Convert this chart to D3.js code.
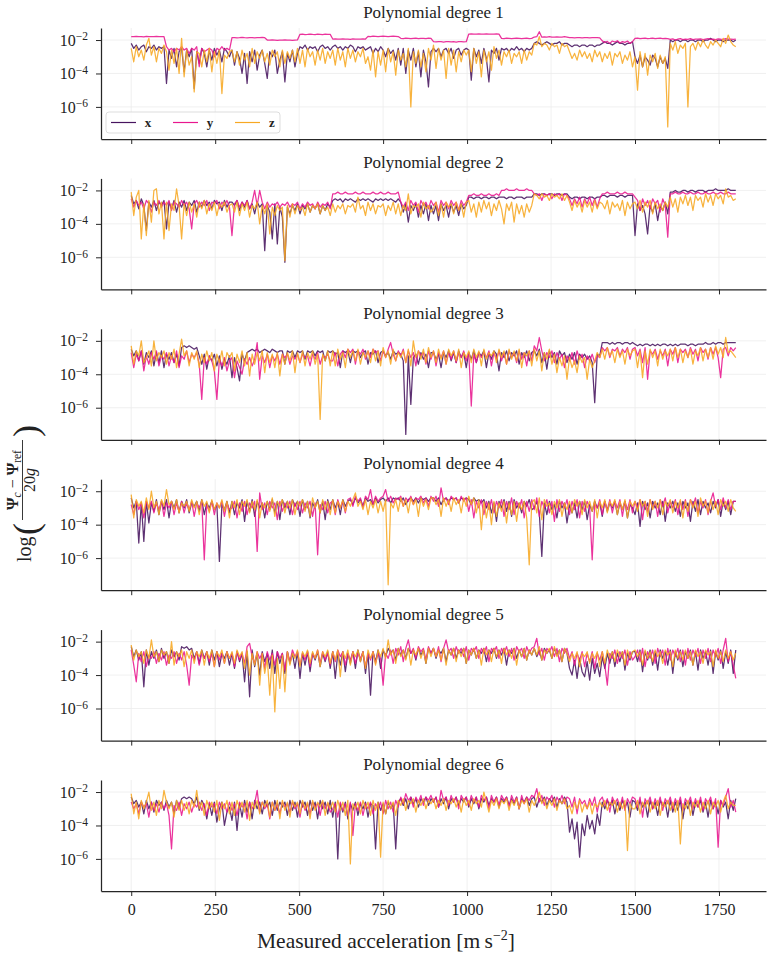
<!DOCTYPE html>
<html>
<head>
<meta charset="utf-8">
<script src="https://cdn.jsdelivr.net/npm/d3@7"></script>
<style>
  html, body { margin: 0; padding: 0; background: #fff; }
  svg text { font-family: "Liberation Serif", "DejaVu Serif", serif; fill: #222; }
</style>
</head>
<body>
<div id="chart"></div>
<script>
// sample positions along the measured acceleration axis (every 7.5)
const accel = d3.range(0, 1800.1, 7.5);
const xTicks = [0, 250, 500, 750, 1000, 1250, 1500, 1750];
const yTicks = [-6, -4, -2];
const seriesNames = ['x', 'y', 'z'];
const seriesColors = ['#47145f', '#e8178e', '#f7a823'];
const titles = ['Polynomial degree 1', 'Polynomial degree 2', 'Polynomial degree 3',
                'Polynomial degree 4', 'Polynomial degree 5', 'Polynomial degree 6'];

// log10 of the normalised error; each row covers 150 units
const deg1x = [
  -2.2,-2.5,-2.3,-2.6,-2.4,-2.3,-2.7,-2.4,-2.5,-2.3,-2.6,-2.4,-2.5,-2.4,-4.6,-2.6,-3.1,-2.5,-3.6,-2.7,
  -2.5,-3.9,-2.6,-3.0,-2.5,-4.9,-2.7,-3.4,-2.5,-2.8,-3.6,-2.6,-3.2,-2.5,-2.9,-2.6,-3.3,-2.5,-2.7,-3.0,
  -2.6,-3.5,-2.7,-3.1,-4.0,-2.8,-4.6,-2.7,-3.3,-2.6,-3.8,-2.9,-2.6,-3.4,-4.3,-2.7,-3.0,-2.6,-4.0,-3.2,
  -2.7,-4.5,-2.8,-3.3,-2.6,-3.6,-2.8,-2.4,-2.5,-2.3,-2.6,-2.4,-2.5,-2.4,-2.7,-2.4,-2.3,-2.5,-2.4,-2.6,
  -2.4,-2.3,-2.5,-2.4,-2.6,-2.4,-2.5,-2.3,-2.4,-2.7,-2.4,-2.5,-2.4,-2.6,-2.5,-2.4,-2.8,-2.5,-2.7,-2.4,
  -2.6,-3.0,-2.5,-2.8,-2.6,-3.2,-2.5,-3.5,-2.5,-4.0,-2.6,-3.2,-2.5,-3.6,-2.7,-4.2,-2.6,-3.3,-4.8,-2.7,
  -2.5,-2.7,-2.5,-3.0,-2.6,-2.5,-2.8,-2.5,-3.1,-2.6,-2.5,-2.9,-2.6,-2.5,-2.6,-4.4,-2.5,-3.0,-2.6,-3.4,
  -2.5,-3.1,-4.5,-2.6,-2.8,-2.5,-3.2,-2.5,-2.6,-2.5,-2.7,-2.5,-2.6,-2.4,-2.6,-2.5,-2.7,-2.5,-2.6,-2.5,
  -2.2,-2.1,-2.2,-2.3,-2.2,-2.1,-2.2,-2.3,-2.2,-2.2,-2.1,-2.3,-2.2,-2.2,-2.3,-2.4,-2.3,-2.3,-2.4,-2.3,
  -2.3,-2.4,-2.3,-2.3,-2.4,-2.3,-2.3,-2.2,-2.1,-2.2,-2.2,-2.3,-2.2,-2.1,-2.2,-2.2,-2.3,-2.2,-2.2,-2.1,
  -3.0,-3.4,-2.9,-3.6,-3.0,-3.2,-3.5,-2.9,-3.1,-3.6,-3.0,-3.4,-3.1,-3.7,-2.0,-2.1,-2.0,-2.0,-2.1,-2.0,
  -2.0,-2.1,-2.0,-2.0,-2.1,-2.0,-2.0,-2.1,-2.0,-2.0,-1.9,-2.0,-2.1,-2.0,-2.0,-2.1,-2.0,-2.0,-2.0,-2.1,
  -2.0];
const deg1y = [
  -1.79,-1.8,-1.78,-1.8,-1.79,-1.81,-1.78,-1.8,-1.79,-1.8,-1.78,-1.8,-1.79,-1.8,-2.4,-2.6,-2.5,-2.7,-2.5,-2.6,
  -2.4,-2.6,-2.5,-2.8,-2.5,-2.6,-2.4,-3.6,-2.5,-2.7,-2.6,-2.5,-2.6,-3.0,-2.5,-2.6,-2.4,-2.6,-2.5,-2.6,
  -1.86,-1.85,-1.87,-1.86,-1.84,-1.86,-1.87,-1.85,-1.86,-1.87,-1.85,-1.86,-1.84,-1.86,-2.0,-2.01,-1.99,-2.0,-2.02,-2.0,
  -2.0,-1.99,-2.01,-2.0,-2.02,-2.0,-1.99,-1.66,-1.65,-1.67,-1.66,-1.64,-1.66,-1.67,-1.65,-1.66,-1.67,-1.65,-1.66,-1.66,
  -1.94,-1.93,-1.95,-1.94,-1.93,-1.95,-1.94,-1.96,-1.93,-1.94,-1.95,-1.94,-1.93,-1.94,-1.78,-1.79,-1.77,-1.78,-1.79,-1.78,
  -1.77,-1.78,-1.79,-1.78,-1.77,-1.78,-1.79,-1.9,-1.91,-1.89,-1.9,-1.92,-1.9,-1.89,-1.91,-1.9,-1.9,-1.92,-1.89,-1.9,
  -2.1,-2.11,-2.09,-2.1,-2.12,-2.1,-2.09,-2.11,-2.1,-2.12,-2.1,-2.09,-2.11,-2.1,-1.64,-1.63,-1.65,-1.64,-1.63,-1.65,
  -1.64,-1.63,-1.65,-1.64,-1.64,-1.63,-1.65,-1.9,-1.91,-1.89,-1.9,-1.91,-1.9,-1.89,-1.9,-1.91,-1.9,-1.89,-1.91,-1.9,
  -1.82,-1.8,-1.5,-1.83,-1.81,-1.82,-1.8,-1.83,-1.82,-1.81,-1.83,-1.82,-1.8,-1.82,-1.86,-1.85,-1.87,-1.86,-1.85,-1.87,
  -1.86,-1.85,-1.87,-1.86,-1.85,-1.86,-1.87,-2.05,-2.15,-2.08,-2.2,-2.06,-2.12,-2.04,-2.18,-2.09,-2.14,-2.06,-2.2,-2.1,
  -1.9,-1.88,-1.92,-1.9,-1.89,-1.91,-1.9,-1.88,-1.92,-1.9,-1.89,-1.91,-1.9,-1.92,-1.96,-1.93,-2.0,-1.95,-1.92,-1.98,
  -1.94,-1.96,-1.92,-1.97,-1.94,-1.95,-1.93,-1.98,-1.95,-1.92,-1.96,-1.94,-1.97,-1.93,-1.95,-1.96,-1.92,-1.95,-1.94,-1.96,
  -1.95];
const deg1z = [
  -2.5,-3.3,-2.4,-3.0,-2.6,-3.2,-2.3,-1.9,-2.9,-2.4,-3.3,-2.5,-2.8,-2.3,-2.7,-3.8,-2.6,-3.4,-2.5,-4.0,
  -1.9,-4.2,-2.6,-3.5,-3.0,-5.1,-2.7,-2.8,-3.6,-2.6,-3.3,-2.5,-3.9,-2.7,-3.4,-2.6,-5.2,-2.9,-3.1,-2.7,
  -2.6,-3.3,-2.7,-3.5,-2.6,-3.2,-2.8,-3.6,-2.5,-3.4,-2.7,-3.1,-2.6,-3.3,-2.8,-3.5,-2.6,-3.0,-2.7,-3.6,
  -2.6,-3.4,-2.7,-3.1,-2.6,-3.3,-2.5,-3.4,-2.6,-3.6,-2.5,-3.0,-2.7,-3.5,-2.6,-3.2,-2.5,-3.4,-2.7,-3.1,
  -2.6,-3.5,-2.5,-3.2,-2.7,-3.6,-2.5,-3.1,-2.6,-3.3,-2.7,-3.0,-2.5,-3.4,-3.0,-3.8,-2.6,-4.2,-2.7,-3.5,
  -2.6,-3.9,-2.5,-3.3,-2.7,-4.1,-2.6,-3.2,-2.8,-3.6,-2.5,-6.0,-2.7,-3.4,-2.6,-3.6,-2.8,-3.9,-2.5,-3.2,
  -2.3,-3.7,-2.5,-3.2,-2.6,-4.3,-2.5,-3.5,-2.6,-3.9,-2.7,-3.3,-2.6,-2.9,-2.6,-3.9,-2.5,-3.4,-2.7,-4.2,
  -2.6,-3.3,-2.7,-3.8,-2.4,-3.1,-2.6,-3.5,-2.7,-3.0,-2.6,-3.4,-2.8,-3.0,-2.7,-3.4,-2.6,-3.2,-2.7,-2.9,
  -2.2,-2.3,-1.8,-2.4,-2.2,-2.3,-2.6,-2.2,-2.4,-2.3,-2.8,-2.2,-2.4,-2.3,-2.7,-3.1,-2.8,-3.2,-2.6,-3.0,
  -2.7,-3.1,-2.8,-3.3,-2.6,-3.0,-2.7,-3.3,-2.8,-3.1,-2.7,-3.5,-2.8,-3.0,-2.7,-3.4,-2.9,-3.2,-2.7,-3.6,
  -3.0,-5.0,-2.7,-3.6,-2.8,-4.1,-2.9,-3.3,-2.8,-3.7,-2.9,-3.4,-3.0,-7.2,-2.2,-2.6,-2.1,-2.8,-2.3,-2.5,
  -2.2,-6.0,-2.4,-2.2,-2.6,-2.1,-2.4,-2.0,-2.3,-2.5,-2.1,-2.3,-2.0,-2.2,-2.4,-1.9,-2.2,-1.7,-2.1,-2.3,
  -2.4];

const deg2x = [
  -2.3,-2.8,-2.6,-3.1,-2.5,-2.9,-4.4,-2.7,-3.0,-2.6,-3.2,-2.7,-2.9,-2.6,-4.3,-2.7,-3.1,-2.6,-3.3,-2.7,
  -3.0,-2.6,-3.2,-2.7,-2.9,-2.6,-3.3,-2.7,-3.0,-2.6,-2.9,-2.7,-3.1,-2.6,-2.8,-2.7,-3.2,-2.6,-3.0,-2.7,
  -2.7,-2.9,-2.6,-3.2,-2.7,-3.0,-2.6,-3.1,-2.8,-3.4,-2.7,-3.0,-2.8,-5.6,-2.9,-3.3,-4.9,-2.8,-5.2,-3.0,
  -3.6,-6.3,-3.0,-3.4,-2.9,-3.2,-2.8,-3.4,-2.9,-3.1,-2.8,-3.3,-2.9,-3.1,-2.8,-3.4,-2.9,-3.2,-2.8,-3.0,
  -2.6,-2.5,-2.6,-2.5,-2.7,-2.5,-2.6,-2.5,-2.6,-2.7,-2.5,-2.6,-2.5,-2.6,-2.5,-2.6,-2.7,-2.5,-2.6,-2.5,
  -2.6,-2.5,-2.6,-2.5,-2.6,-2.7,-2.5,-2.7,-3.3,-2.8,-3.9,-2.9,-3.2,-2.8,-3.6,-2.9,-3.4,-2.8,-3.8,-2.9,
  -3.4,-2.9,-3.8,-2.8,-3.2,-2.9,-3.6,-2.8,-3.3,-2.9,-3.5,-2.8,-3.1,-2.9,-2.4,-2.4,-2.5,-2.4,-2.4,-2.5,
  -2.4,-2.4,-2.5,-2.4,-2.4,-2.5,-2.4,-2.4,-2.4,-2.5,-2.4,-2.4,-2.5,-2.4,-2.4,-2.4,-2.5,-2.4,-2.4,-2.4,
  -2.2,-2.2,-2.3,-2.2,-2.2,-2.3,-2.2,-2.2,-2.3,-2.2,-2.2,-2.3,-2.2,-2.2,-2.4,-2.5,-2.4,-2.4,-2.5,-2.4,
  -2.4,-2.5,-2.4,-2.4,-2.5,-2.4,-2.4,-2.3,-2.3,-2.4,-2.3,-2.3,-2.3,-2.4,-2.3,-2.3,-2.4,-2.3,-2.3,-2.3,
  -4.7,-2.8,-3.2,-2.9,-3.4,-4.6,-2.9,-3.3,-2.8,-3.8,-2.9,-3.2,-2.7,-3.4,-2.1,-2.1,-2.0,-2.1,-2.1,-2.0,
  -2.0,-2.1,-2.0,-2.0,-2.1,-2.0,-2.0,-2.0,-2.1,-2.0,-2.0,-2.0,-1.9,-2.0,-2.0,-2.0,-2.0,-1.9,-2.0,-2.0,
  -2.0];
const deg2y = [
  -2.5,-3.0,-2.6,-2.9,-2.7,-3.1,-2.6,-2.8,-3.3,-2.7,-2.9,-2.6,-3.0,-2.7,-2.9,-2.6,-3.2,-2.7,-2.8,-3.0,
  -2.6,-2.9,-2.7,-3.1,-4.3,-2.8,-2.6,-3.0,-2.7,-2.9,-2.6,-3.2,-2.7,-2.8,-2.6,-3.1,-2.7,-2.9,-2.6,-3.0,
  -4.7,-2.8,-2.6,-3.0,-2.7,-2.9,-2.6,-3.1,-2.7,-2.0,-2.9,-2.0,-2.7,-3.1,-2.7,-3.0,-2.8,-2.9,-2.7,-3.0,
  -2.8,-2.9,-2.7,-3.0,-2.8,-2.9,-2.7,-3.1,-2.8,-3.0,-2.7,-2.9,-2.8,-3.1,-2.7,-3.0,-2.8,-2.9,-2.7,-3.1,
  -2.2,-2.2,-2.1,-2.2,-2.2,-2.1,-2.2,-2.2,-2.2,-2.1,-2.2,-2.2,-2.1,-2.2,-2.2,-2.2,-2.1,-2.2,-2.2,-2.1,
  -2.2,-2.2,-2.1,-2.2,-2.2,-2.2,-2.1,-2.7,-3.0,-2.7,-3.2,-2.6,-2.9,-2.7,-3.3,-2.6,-2.9,-2.7,-3.1,-2.6,
  -2.9,-2.7,-3.3,-2.6,-2.9,-2.7,-3.1,-2.6,-2.9,-2.7,-3.2,-2.6,-2.9,-2.7,-2.3,-2.3,-2.2,-2.3,-2.3,-2.2,
  -2.3,-2.3,-2.2,-2.3,-2.3,-2.2,-2.3,-2.0,-2.0,-1.9,-2.0,-2.0,-2.0,-1.9,-2.0,-2.0,-2.0,-1.9,-2.0,-2.0,
  -2.2,-2.3,-2.2,-2.6,-2.2,-2.3,-2.2,-2.5,-2.2,-2.3,-2.2,-2.6,-2.2,-2.3,-2.5,-2.9,-2.5,-2.8,-2.4,-3.0,
  -2.5,-2.8,-2.4,-2.9,-2.5,-3.0,-2.5,-2.2,-2.2,-2.1,-2.2,-2.2,-2.2,-2.1,-2.2,-2.2,-2.1,-2.2,-2.2,-2.2,
  -2.4,-2.6,-3.2,-2.5,-2.9,-2.6,-3.1,-2.5,-2.8,-2.6,-3.3,-2.5,-2.9,-4.8,-2.2,-2.2,-2.1,-2.2,-2.2,-2.1,
  -2.2,-2.2,-2.1,-2.2,-2.2,-2.1,-2.2,-2.2,-2.1,-2.2,-2.2,-2.1,-2.2,-2.2,-2.1,-2.2,-2.2,-2.1,-2.2,-2.2,
  -2.2];
const deg2z = [
  -2.1,-3.5,-2.4,-2.0,-4.9,-2.8,-4.7,-2.6,-3.9,-2.0,-1.9,-3.4,-2.7,-4.9,-2.7,-4.4,-2.8,-3.2,-1.9,-2.9,
  -4.9,-2.8,-3.5,-2.7,-3.3,-2.8,-3.6,-2.7,-3.1,-2.6,-3.4,-2.8,-3.2,-2.7,-3.5,-2.8,-3.0,-2.7,-3.3,-2.9,
  -2.8,-3.3,-2.7,-3.5,-2.8,-3.2,-2.7,-3.6,-2.9,-3.1,-2.7,-4.0,-2.9,-3.4,-2.8,-4.6,-3.0,-3.5,-2.9,-3.2,
  -3.0,-6.2,-2.9,-3.6,-2.8,-3.4,-2.9,-3.2,-3.0,-3.5,-2.8,-3.3,-2.9,-3.1,-2.8,-3.4,-2.9,-3.2,-3.0,-3.5,
  -2.8,-3.3,-2.9,-3.1,-2.8,-3.4,-2.9,-3.0,-2.8,-3.3,-2.4,-3.1,-2.9,-3.5,-2.7,-3.2,-2.8,-3.4,-2.9,-3.0,
  -2.8,-3.5,-2.9,-3.2,-2.7,-3.4,-2.8,-3.5,-2.9,-3.2,-2.2,-3.4,-2.9,-3.0,-2.8,-3.6,-2.7,-3.1,-2.9,-3.3,
  -3.1,-2.7,-3.5,-2.8,-3.6,-2.7,-3.0,-2.8,-3.4,-2.7,-3.2,-2.8,-3.6,-2.7,-2.6,-3.3,-2.8,-3.6,-2.7,-3.3,
  -2.6,-3.1,-2.7,-3.5,-2.8,-3.2,-2.6,-3.1,-4.0,-2.8,-3.2,-2.7,-3.9,-2.8,-3.4,-2.9,-3.6,-2.8,-3.3,-2.9,
  -2.2,-2.3,-2.5,-2.2,-2.4,-2.3,-2.6,-2.2,-2.4,-2.3,-2.5,-2.2,-2.6,-2.3,-2.7,-3.2,-2.6,-3.0,-2.7,-3.3,
  -2.6,-3.0,-2.7,-3.3,-2.6,-3.1,-2.7,-2.8,-3.1,-2.6,-3.4,-2.7,-3.0,-2.8,-3.2,-2.6,-3.5,-2.7,-3.1,-2.8,
  -2.7,-3.1,-2.6,-3.3,-2.7,-3.0,-2.6,-3.4,-2.7,-3.1,-2.8,-3.2,-2.7,-3.0,-2.4,-3.0,-2.5,-3.3,-2.4,-2.8,
  -2.3,-2.9,-2.4,-3.2,-2.3,-2.6,-2.4,-3.0,-2.2,-2.7,-2.3,-2.9,-2.2,-2.5,-2.3,-2.8,-1.9,-2.4,-2.3,-2.6,
  -2.5];

const deg3x = [
  -2.5,-2.9,-2.6,-3.2,-2.6,-3.4,-2.7,-3.0,-2.6,-3.5,-2.7,-3.3,-2.6,-3.6,-2.8,-3.1,-2.7,-3.3,-2.8,-3.5,
  -2.4,-2.3,-2.4,-2.3,-2.4,-2.5,-2.4,-2.9,-3.4,-2.8,-3.7,-2.9,-3.2,-2.8,-3.5,-2.9,-3.7,-3.1,-3.4,-2.9,
  -4.2,-3.0,-3.6,-4.4,-2.8,-3.2,-2.7,-2.6,-2.5,-2.6,-2.5,-2.7,-2.6,-2.5,-2.6,-2.7,-2.5,-2.6,-2.7,-2.6,
  -2.6,-3.4,-2.6,-2.7,-2.6,-3.0,-2.6,-2.7,-2.6,-3.1,-2.6,-2.7,-2.6,-2.9,-2.6,-2.7,-2.6,-3.2,-2.6,-2.7,
  -2.6,-2.8,-2.7,-3.6,-2.6,-2.7,-2.6,-3.3,-2.6,-2.7,-2.6,-3.0,-2.7,-2.6,-3.4,-2.7,-2.8,-2.6,-3.3,-2.7,
  -2.6,-2.9,-2.7,-3.1,-2.6,-2.8,-2.7,-2.8,-3.2,-7.6,-2.9,-5.8,-3.0,-2.8,-3.4,-2.7,-3.1,-2.8,-3.6,-2.7,
  -2.7,-3.1,-2.8,-3.6,-2.7,-3.0,-2.6,-3.2,-2.7,-3.3,-2.6,-3.0,-2.7,-3.6,-2.7,-3.1,-2.6,-3.3,-2.7,-2.9,
  -2.6,-3.6,-2.7,-3.1,-2.6,-2.8,-3.8,-2.7,-3.0,-2.6,-3.2,-2.7,-2.9,-2.6,-3.4,-2.7,-3.0,-2.6,-3.2,-2.7,
  -2.6,-2.9,-2.5,-3.3,-2.7,-3.7,-2.6,-3.0,-2.7,-3.4,-2.6,-2.9,-2.7,-3.3,-2.8,-3.1,-2.7,-3.4,-2.8,-3.0,
  -2.8,-3.1,-2.9,-3.3,-5.7,-2.8,-2.9,-2.1,-2.1,-2.1,-2.2,-2.1,-2.2,-2.1,-2.1,-2.2,-2.1,-2.1,-2.2,-2.1,
  -2.2,-2.3,-2.2,-2.3,-2.2,-2.2,-2.3,-2.2,-2.3,-2.2,-2.3,-2.2,-2.2,-2.3,-2.2,-2.3,-2.2,-2.3,-2.2,-2.2,
  -2.2,-2.3,-2.2,-2.2,-2.3,-2.2,-2.2,-2.2,-2.1,-2.2,-2.2,-2.1,-2.2,-2.1,-2.1,-2.2,-2.1,-2.1,-2.1,-2.1,
  -2.1];
const deg3y = [
  -2.7,-3.6,-2.8,-3.2,-2.6,-3.8,-2.9,-3.4,-2.7,-3.1,-2.6,-3.5,-2.9,-3.1,-2.7,-3.5,-2.9,-3.3,-2.6,-3.6,
  -2.9,-3.1,-2.6,-3.3,-2.8,-3.0,-2.7,-3.4,-5.5,-3.0,-3.4,-2.9,-3.2,-3.8,-5.5,-3.1,-3.5,-3.0,-3.8,-3.2,
  -3.0,-4.2,-3.2,-3.6,-4.0,-3.1,-3.4,-3.0,-3.5,-3.1,-2.1,-4.3,-2.9,-3.3,-2.8,-3.6,-2.9,-3.2,-2.8,-3.4,
  -2.8,-3.0,-2.8,-3.4,-2.9,-3.1,-2.8,-3.3,-2.8,-3.0,-2.9,-3.5,-2.8,-3.1,-2.7,-3.4,-2.9,-3.0,-2.8,-3.2,
  -3.2,-2.7,-3.5,-2.8,-2.6,-3.0,-2.5,-2.7,-2.5,-3.4,-2.6,-2.8,-2.5,-3.1,-2.6,-3.0,-2.5,-2.7,-2.6,-3.2,
  -2.6,-3.0,-2.5,-2.1,-2.8,-3.2,-2.6,-2.9,-2.5,-3.3,-2.6,-3.0,-2.7,-3.5,-2.6,-2.9,-2.7,-3.4,-2.6,-3.1,
  -2.6,-3.5,-2.7,-3.0,-2.6,-3.4,-2.7,-3.1,-2.6,-3.3,-2.7,-3.0,-2.6,-3.2,-2.7,-5.9,-2.8,-3.3,-2.7,-3.0,
  -2.7,-3.0,-2.6,-3.5,-2.7,-3.1,-2.6,-3.2,-2.7,-3.4,-2.6,-3.0,-2.7,-3.3,-2.6,-3.1,-2.7,-3.5,-2.6,-3.2,
  -2.3,-2.6,-1.8,-2.6,-3.2,-2.7,-3.0,-2.6,-3.3,-2.7,-3.1,-2.8,-3.6,-2.9,-3.2,-2.7,-3.4,-2.6,-3.1,-2.8,
  -3.6,-2.9,-3.2,-2.8,-3.3,-2.9,-3.0,-2.4,-2.6,-2.4,-3.0,-2.5,-2.6,-2.4,-2.9,-2.5,-2.7,-2.4,-3.1,-2.5,
  -2.4,-2.9,-2.5,-3.3,-2.4,-4.3,-2.6,-2.8,-2.5,-3.1,-2.6,-2.9,-2.5,-3.5,-2.5,-2.8,-2.4,-3.3,-2.5,-2.7,
  -2.5,-3.0,-2.4,-2.8,-2.5,-3.2,-2.4,-2.7,-2.5,-3.1,-2.4,-2.8,-2.4,-3.0,-4.2,-2.5,-2.4,-2.9,-2.4,-2.6,
  -2.4];
const deg3z = [
  -2.3,-3.4,-2.6,-2.9,-2.0,-3.3,-3.0,-2.6,-3.5,-2.0,-3.2,-2.7,-3.0,-2.6,-3.4,-2.7,-3.1,-2.5,-3.6,-2.8,
  -1.9,-2.9,-2.6,-3.5,-2.7,-3.1,-2.6,-3.6,-2.8,-3.3,-2.6,-3.2,-2.7,-3.8,-2.8,-3.3,-2.6,-3.5,-2.7,-3.0,
  -2.7,-3.8,-2.8,-3.3,-2.6,-3.5,-2.7,-4.1,-2.8,-3.4,-2.7,-3.2,-2.6,-3.9,-2.7,-3.3,-2.8,-3.6,-2.7,-4.1,
  -2.8,-3.4,-2.7,-3.2,-2.6,-3.9,-2.7,-3.3,-2.6,-3.5,-2.7,-3.1,-2.6,-3.4,-2.8,-6.7,-2.8,-3.2,-2.6,-3.5,
  -2.6,-3.5,-2.5,-3.1,-2.7,-3.6,-2.5,-3.0,-2.6,-3.2,-2.5,-3.4,-2.7,-3.0,-2.6,-3.3,-2.5,-3.2,-2.6,-3.5,
  -2.4,-3.0,-2.6,-3.4,-2.5,-3.2,-2.7,-3.0,-2.6,-3.3,-2.5,-3.5,-2.0,-3.0,-2.6,-3.1,-2.5,-3.3,-2.4,-3.0,
  -2.6,-3.3,-2.5,-3.1,-2.6,-3.4,-2.5,-2.9,-2.6,-3.2,-2.5,-3.6,-2.7,-3.0,-2.6,-3.3,-2.5,-3.0,-2.6,-3.5,
  -2.5,-3.1,-2.7,-2.9,-2.6,-3.3,-2.5,-3.0,-2.6,-3.4,-2.5,-3.1,-2.6,-3.2,-2.5,-3.6,-2.7,-2.9,-2.6,-3.5,
  -2.5,-3.2,-2.6,-3.8,-2.7,-3.1,-2.5,-3.4,-2.8,-3.9,-3.0,-3.5,-2.9,-4.3,-3.0,-3.6,-3.2,-3.9,-2.9,-3.3,
  -3.0,-4.3,-3.1,-3.6,-3.2,-2.7,-3.0,-2.5,-3.1,-2.4,-2.9,-2.6,-3.3,-2.5,-3.0,-2.6,-3.4,-2.5,-2.9,-2.6,
  -2.5,-3.6,-2.6,-4.2,-2.6,-3.4,-2.5,-3.0,-2.6,-3.5,-2.5,-3.1,-2.6,-2.9,-2.5,-3.2,-2.4,-3.0,-2.5,-3.3,
  -2.6,-3.0,-2.5,-3.4,-2.6,-2.9,-2.4,-3.2,-2.5,-3.0,-2.4,-3.1,-2.3,-2.8,-2.4,-3.0,-1.8,-2.7,-2.6,-2.8,
  -3.0];

const deg4x = [
  -2.4,-3.0,-2.6,-5.1,-2.7,-5.0,-2.6,-3.9,-2.7,-3.2,-2.5,-3.4,-2.6,-3.1,-2.5,-3.6,-2.6,-3.0,-2.5,-3.3,
  -2.6,-3.0,-2.5,-3.3,-2.7,-2.9,-2.6,-3.2,-2.5,-3.4,-2.7,-3.0,-2.6,-3.1,-2.8,-6.2,-2.8,-3.1,-2.6,-3.3,
  -2.6,-3.4,-2.7,-3.0,-2.5,-3.8,-2.6,-3.2,-2.5,-3.5,-2.6,-3.0,-2.7,-3.6,-2.6,-3.1,-2.5,-3.3,-2.6,-3.7,
  -2.5,-3.0,-2.6,-3.4,-2.5,-2.9,-2.6,-3.5,-2.5,-3.1,-2.6,-3.6,-2.7,-3.0,-2.5,-3.3,-2.6,-3.7,-2.5,-3.1,
  -2.5,-3.0,-2.6,-3.4,-2.5,-2.9,-2.6,-2.5,-2.8,-2.4,-2.7,-2.5,-2.9,-2.4,-2.6,-2.5,-2.8,-2.4,-2.7,-2.5,
  -2.4,-2.6,-2.4,-2.7,-2.4,-2.5,-2.4,-2.6,-2.4,-2.8,-2.5,-2.4,-2.6,-2.4,-2.7,-2.4,-2.5,-2.4,-2.6,-2.4,
  -2.4,-2.6,-2.4,-2.8,-2.5,-2.4,-2.6,-2.4,-2.5,-2.4,-2.7,-2.4,-2.5,-2.4,-2.5,-2.8,-2.4,-2.6,-2.5,-2.7,
  -2.5,-3.0,-2.6,-3.3,-2.7,-3.8,-2.6,-3.0,-2.5,-3.2,-2.6,-3.5,-2.5,-3.0,-2.7,-3.3,-2.6,-2.9,-2.5,-3.1,
  -3.0,-2.6,-3.3,-5.9,-2.7,-3.4,-2.6,-3.1,-2.8,-3.6,-2.6,-3.0,-2.7,-3.9,-2.8,-3.3,-2.7,-3.6,-2.6,-3.1,
  -2.6,-3.7,-2.8,-3.2,-2.6,-3.0,-2.7,-3.5,-2.6,-3.2,-2.7,-3.0,-2.6,-3.4,-2.7,-3.1,-2.6,-3.6,-2.8,-3.0,
  -3.4,-2.7,-4.1,-2.6,-3.1,-2.7,-3.6,-2.6,-3.0,-2.7,-3.4,-2.6,-3.8,-2.7,-3.0,-2.6,-3.2,-2.7,-3.5,-2.6,
  -3.0,-2.7,-3.8,-2.6,-3.2,-2.5,-3.4,-2.6,-3.0,-2.7,-3.3,-2.6,-3.0,-2.5,-3.5,-2.6,-3.1,-2.6,-3.4,-2.6,
  -2.6];
const deg4y = [
  -2.8,-3.4,-2.6,-3.1,-2.7,-3.6,-2.6,-3.0,-2.6,-3.3,-2.7,-3.1,-2.6,-3.5,-2.7,-3.0,-2.6,-3.4,-2.7,-3.2,
  -2.6,-3.3,-2.7,-3.1,-2.6,-3.5,-2.7,-3.0,-2.6,-6.1,-2.8,-3.2,-2.6,-3.4,-2.7,-3.0,-2.6,-3.5,-2.7,-3.1,
  -3.0,-2.6,-3.6,-2.7,-3.2,-2.6,-3.4,-2.7,-3.0,-2.6,-5.6,-2.1,-3.1,-2.7,-3.4,-2.6,-3.0,-2.7,-3.7,-2.6,
  -3.2,-2.7,-3.0,-2.6,-3.4,-2.7,-3.1,-2.6,-3.3,-2.7,-3.0,-2.6,-3.5,-2.7,-5.8,-2.8,-3.1,-2.6,-3.3,-2.7,
  -2.6,-3.4,-2.5,-3.0,-2.6,-3.3,-2.5,-2.4,-2.9,-2.3,-2.6,-2.4,-3.0,-2.3,-2.5,-1.9,-2.8,-2.3,-2.6,-2.4,
  -2.3,-1.9,-2.6,-2.3,-2.7,-2.4,-2.5,-2.3,-2.9,-2.4,-2.6,-2.3,-2.8,-2.4,-2.5,-2.3,-2.7,-2.4,-2.9,-2.3,
  -2.6,-2.3,-2.9,-1.8,-2.6,-2.4,-2.8,-2.3,-2.5,-2.4,-2.7,-2.3,-2.6,-2.4,-3.2,-2.5,-3.6,-2.6,-3.0,-2.5,
  -3.4,-2.6,-3.1,-2.5,-3.3,-2.6,-3.0,-2.5,-3.5,-2.6,-3.1,-2.4,-3.4,-2.6,-3.0,-2.5,-3.6,-2.6,-3.2,-2.5,
  -3.1,-2.4,-3.5,-2.6,-3.0,-2.5,-3.3,-2.6,-3.8,-2.5,-3.2,-2.6,-3.0,-2.5,-3.4,-2.6,-3.1,-2.5,-3.6,-2.6,
  -3.2,-2.6,-3.0,-6.1,-2.7,-3.0,-2.5,-3.4,-2.6,-3.1,-2.5,-3.3,-2.6,-3.0,-2.5,-3.5,-2.6,-3.1,-2.5,-3.3,
  -2.6,-3.0,-2.5,-3.7,-2.6,-3.2,-2.5,-3.0,-2.6,-3.5,-2.5,-2.9,-2.4,-3.3,-2.6,-3.0,-2.5,-3.4,-2.6,-3.1,
  -2.5,-3.5,-2.5,-2.9,-2.4,-3.3,-2.6,-3.0,-2.5,-3.4,-2.6,-2.1,-2.9,-2.5,-3.1,-2.4,-3.0,-2.5,-3.1,-2.6,
  -2.6];
const deg4z = [
  -2.2,-3.6,-2.5,-2.9,-2.6,-3.3,-2.4,-3.1,-2.0,-3.0,-2.6,-3.4,-2.5,-2.9,-1.9,-2.8,-2.6,-3.1,-2.5,-3.3,
  -2.7,-2.9,-2.6,-3.2,-2.5,-3.0,-2.6,-3.4,-2.5,-2.9,-2.6,-3.3,-2.5,-3.1,-2.7,-3.0,-2.5,-3.2,-2.6,-3.6,
  -2.6,-3.0,-2.5,-3.4,-2.6,-2.9,-2.5,-3.3,-2.6,-3.1,-2.5,-3.6,-2.7,-3.0,-2.6,-3.2,-2.4,-3.5,-2.6,-2.9,
  -2.5,-3.3,-2.6,-3.0,-2.5,-3.4,-2.6,-2.9,-2.5,-3.2,-2.6,-3.5,-2.4,-3.0,-2.6,-3.3,-2.5,-3.1,-2.6,-3.4,
  -2.5,-3.3,-2.6,-3.0,-2.5,-3.2,-2.6,-2.9,-2.5,-2.1,-2.9,-2.6,-3.1,-2.5,-3.4,-2.6,-3.0,-2.5,-3.3,-2.6,
  -3.2,-2.5,-7.6,-2.7,-3.0,-2.5,-3.2,-2.4,-2.9,-2.5,-3.3,-2.4,-2.8,-2.5,-3.5,-2.4,-2.9,-2.5,-3.1,-2.4,
  -2.4,-2.8,-2.5,-3.5,-2.4,-2.9,-2.5,-3.2,-2.4,-2.8,-2.5,-3.3,-2.4,-2.9,-2.3,-2.8,-2.4,-3.3,-2.5,-4.3,
  -2.6,-3.6,-2.7,-4.0,-2.6,-3.5,-2.7,-3.2,-2.6,-3.9,-2.7,-3.4,-2.6,-3.8,-2.7,-3.1,-2.6,-3.6,-6.4,-2.7,
  -2.5,-3.3,-2.4,-3.7,-2.5,-2.9,-2.7,-3.4,-2.6,-3.0,-2.5,-3.5,-2.7,-3.1,-2.6,-3.3,-2.5,-2.9,-2.6,-3.4,
  -2.5,-3.0,-2.6,-3.2,-2.5,-3.6,-2.6,-3.0,-2.5,-3.3,-2.6,-2.9,-2.5,-3.4,-2.6,-3.1,-2.5,-3.6,-2.6,-2.9,
  -2.6,-3.2,-2.5,-2.9,-2.6,-3.5,-2.5,-3.1,-2.6,-3.0,-2.5,-3.4,-2.6,-2.9,-2.5,-3.3,-2.6,-3.0,-2.5,-3.6,
  -2.6,-3.2,-2.5,-3.0,-2.6,-3.5,-2.4,-2.9,-2.6,-3.3,-2.5,-3.1,-2.6,-3.4,-2.5,-2.9,-2.6,-3.2,-2.5,-3.0,
  -3.2];

const deg5x = [
  -2.3,-2.9,-2.5,-3.1,-2.6,-4.7,-2.5,-3.4,-2.6,-3.0,-2.5,-3.2,-2.4,-3.0,-2.6,-3.3,-2.5,-2.9,-2.6,-3.1,
  -2.3,-2.4,-2.3,-2.5,-2.4,-3.0,-2.6,-3.3,-2.5,-3.0,-2.6,-3.4,-2.5,-3.1,-2.6,-3.5,-2.7,-3.0,-2.6,-3.4,
  -2.7,-3.6,-2.6,-3.2,-2.7,-4.4,-2.6,-5.3,-2.5,-3.5,-2.7,-4.0,-2.6,-3.2,-2.7,-3.6,-2.5,-3.9,-2.6,-3.3,
  -2.7,-3.9,-2.6,-3.3,-2.7,-3.6,-2.6,-4.2,-2.7,-3.4,-2.6,-3.8,-2.7,-3.1,-2.6,-3.5,-2.7,-3.2,-2.6,-3.6,
  -2.6,-4.2,-2.7,-3.4,-2.6,-3.8,-2.7,-3.3,-2.6,-3.6,-2.5,-3.2,-2.6,-3.9,-2.7,-5.2,-2.6,-3.2,-2.5,-3.6,
  -2.5,-2.9,-2.4,-2.7,-2.5,-3.1,-2.4,-2.8,-2.5,-3.0,-2.4,-2.7,-2.5,-3.1,-2.4,-2.8,-2.5,-3.3,-2.4,-2.7,
  -2.4,-3.0,-2.5,-2.7,-2.4,-3.2,-2.5,-2.8,-2.4,-3.0,-2.5,-2.7,-2.4,-3.3,-2.5,-2.8,-2.4,-3.0,-2.5,-2.7,
  -2.4,-3.2,-2.5,-2.7,-2.4,-3.0,-2.5,-2.8,-2.4,-3.4,-2.5,-2.7,-2.4,-3.0,-2.5,-2.9,-2.4,-3.1,-2.5,-2.8,
  -2.4,-2.9,-2.5,-3.1,-2.4,-2.7,-2.5,-3.0,-2.4,-2.8,-2.5,-3.2,-2.4,-2.7,-3.6,-4.0,-3.1,-4.2,-3.0,-3.8,
  -4.1,-3.2,-4.3,-3.0,-3.9,-3.3,-4.1,-2.9,-3.6,-2.7,-3.3,-2.6,-3.5,-2.7,-3.2,-2.6,-3.7,-2.7,-3.1,-2.6,
  -2.6,-3.2,-2.5,-3.8,-2.6,-3.1,-2.5,-3.4,-2.6,-3.7,-2.5,-3.0,-2.6,-3.4,-2.5,-3.9,-2.6,-3.1,-2.5,-3.5,
  -2.6,-3.0,-2.5,-3.4,-2.6,-3.7,-2.5,-3.0,-2.6,-3.4,-2.5,-3.9,-2.6,-3.1,-2.5,-3.6,-2.6,-3.3,-2.5,-3.9,
  -2.5];
const deg5y = [
  -2.5,-3.4,-4.4,-2.7,-3.2,-2.6,-3.5,-2.8,-3.0,-2.6,-3.3,-2.7,-3.1,-2.6,-3.4,-2.8,-3.0,-2.6,-3.3,-2.7,
  -3.1,-2.6,-3.4,-4.6,-2.8,-3.1,-2.6,-3.4,-2.7,-3.0,-2.6,-3.2,-2.7,-3.5,-2.6,-3.1,-2.7,-3.3,-2.6,-3.0,
  -2.7,-3.5,-2.6,-3.1,-2.7,-3.3,-2.3,-2.1,-2.9,-3.3,-2.6,-3.0,-2.7,-3.6,-2.6,-3.1,-2.7,-3.4,-2.6,-3.0,
  -2.7,-3.7,-2.6,-3.2,-2.5,-2.9,-2.6,-3.4,-2.7,-3.1,-2.6,-3.5,-2.7,-3.0,-2.5,-3.3,-2.6,-3.1,-2.7,-3.4,
  -2.6,-3.2,-2.5,-2.9,-2.6,-3.4,-2.7,-3.1,-2.6,-3.3,-2.7,-3.0,-2.6,-3.5,-2.7,-3.1,-2.6,-3.3,-2.7,-3.0,
  -4.6,-2.7,-3.0,-2.5,-3.3,-2.4,-2.8,-2.3,-3.2,-2.4,-1.9,-2.7,-2.4,-3.0,-2.3,-2.6,-2.4,-3.1,-2.3,-2.7,
  -2.4,-2.9,-2.3,-3.2,-2.4,-1.9,-2.6,-2.4,-3.0,-2.3,-2.7,-2.4,-2.9,-2.3,-3.1,-2.4,-2.6,-2.3,-3.0,-2.4,
  -2.7,-2.3,-3.2,-2.4,-2.6,-2.3,-3.0,-2.4,-2.7,-2.3,-2.9,-2.4,-3.1,-2.3,-2.6,-2.4,-3.0,-2.3,-2.7,-2.4,
  -2.3,-1.8,-2.8,-2.4,-3.1,-2.4,-2.6,-2.3,-2.9,-2.4,-3.2,-2.4,-2.7,-2.4,-3.0,-2.6,-3.4,-2.7,-3.1,-2.6,
  -3.5,-2.7,-3.2,-2.6,-3.6,-2.7,-3.1,-2.6,-3.4,-4.6,-2.7,-3.0,-2.5,-3.3,-2.6,-3.0,-2.5,-3.4,-2.6,-3.1,
  -2.9,-2.5,-3.2,-2.4,-3.5,-2.6,-3.0,-2.5,-3.3,-2.4,-2.9,-2.5,-3.4,-2.4,-3.1,-2.5,-2.9,-2.4,-3.2,-2.5,
  -3.4,-2.4,-3.1,-2.5,-2.9,-2.4,-3.3,-2.5,-3.0,-2.4,-3.2,-2.5,-2.9,-2.4,-3.3,-2.5,-1.8,-3.2,-2.6,-3.4,
  -4.2];
const deg5z = [
  -2.2,-3.1,-2.5,-2.9,-2.6,-3.3,-2.5,-3.0,-1.9,-2.9,-2.6,-3.2,-2.5,-2.8,-2.6,-3.3,-2.0,-3.4,-2.6,-2.9,
  -2.5,-3.5,-2.6,-3.0,-2.5,-3.3,-2.6,-2.9,-2.5,-3.4,-2.6,-3.0,-2.5,-3.5,-2.6,-2.9,-2.5,-3.3,-2.6,-3.0,
  -2.6,-3.3,-2.5,-2.9,-2.6,-3.6,-2.5,-4.0,-2.7,-3.4,-2.6,-4.6,-2.7,-3.9,-3.0,-5.2,-2.8,-6.2,-3.0,-4.8,
  -2.8,-5.0,-2.6,-3.4,-2.7,-3.0,-2.5,-3.5,-2.6,-2.9,-2.5,-3.3,-2.6,-3.0,-2.5,-3.5,-2.6,-2.9,-2.5,-3.3,
  -2.6,-3.1,-2.5,-4.1,-2.6,-3.0,-2.5,-3.4,-2.6,-2.9,-2.5,-3.2,-2.6,-3.6,-2.5,-3.0,-2.6,-3.4,-2.5,-2.9,
  -2.4,-3.0,-1.9,-2.8,-2.5,-3.3,-2.4,-2.9,-2.5,-3.1,-2.4,-3.4,-2.5,-2.8,-2.4,-3.0,-2.5,-3.3,-2.4,-2.9,
  -2.4,-2.9,-2.5,-3.1,-2.4,-3.4,-2.5,-2.8,-2.4,-3.2,-2.5,-2.9,-2.4,-3.3,-2.5,-2.8,-2.4,-3.0,-2.5,-3.4,
  -2.4,-2.8,-2.5,-3.2,-2.4,-2.9,-2.5,-3.3,-2.4,-2.8,-2.5,-3.0,-2.4,-3.4,-2.5,-2.9,-2.4,-3.1,-2.5,-2.8,
  -2.4,-2.8,-2.3,-3.1,-2.5,-2.7,-2.4,-3.0,-2.3,-2.9,-2.5,-3.2,-2.4,-2.7,-3.2,-2.7,-3.0,-2.6,-3.5,-2.7,
  -2.9,-2.6,-3.3,-2.7,-3.0,-2.6,-3.5,-2.6,-3.3,-2.5,-3.0,-2.6,-3.2,-2.5,-2.9,-2.6,-3.4,-2.5,-3.0,-2.6,
  -2.5,-2.9,-2.6,-3.4,-2.5,-3.0,-2.6,-3.2,-2.5,-2.9,-2.6,-3.3,-2.5,-2.8,-2.6,-3.5,-2.5,-3.0,-2.6,-3.1,
  -2.5,-3.0,-2.6,-3.4,-2.5,-2.9,-2.6,-3.3,-2.5,-2.8,-2.6,-3.5,-2.5,-3.0,-2.6,-3.2,-2.5,-3.0,-2.6,-3.1,
  -2.7];

const deg6x = [
  -2.3,-2.7,-2.5,-2.9,-2.6,-3.3,-2.5,-3.0,-2.6,-3.2,-2.5,-2.8,-2.6,-3.1,-2.5,-2.9,-2.6,-3.3,-2.5,-3.0,
  -2.4,-2.3,-2.4,-2.3,-2.4,-2.7,-2.3,-3.1,-2.5,-2.8,-3.6,-2.7,-3.4,-2.6,-3.8,-3.0,-2.6,-4.0,-3.2,-2.9,
  -3.7,-2.6,-4.3,-2.7,-3.5,-2.5,-3.2,-2.6,-3.6,-2.5,-3.0,-2.6,-3.3,-2.5,-2.9,-2.6,-3.4,-2.5,-3.1,-2.6,
  -2.9,-2.6,-3.4,-2.5,-3.1,-2.6,-3.5,-2.5,-2.9,-2.6,-3.4,-2.5,-3.1,-2.6,-3.6,-2.5,-3.0,-2.6,-3.3,-2.5,
  -3.5,-2.6,-6.0,-2.7,-3.2,-2.6,-3.6,-2.7,-3.1,-2.6,-3.4,-2.7,-3.0,-2.6,-3.5,-2.7,-2.8,-5.4,-2.6,-3.1,
  -2.7,-3.3,-2.6,-3.0,-2.7,-5.4,-2.6,-2.4,-2.8,-2.4,-3.0,-2.3,-2.7,-2.4,-2.9,-2.4,-2.6,-2.3,-2.8,-2.4,
  -2.6,-2.3,-2.9,-2.4,-2.7,-2.3,-3.0,-2.4,-2.6,-2.3,-2.8,-2.4,-2.6,-2.3,-2.9,-2.4,-2.7,-2.3,-3.0,-2.4,
  -2.6,-2.3,-2.8,-2.4,-2.6,-2.3,-2.9,-2.4,-2.6,-2.3,-2.8,-2.4,-2.7,-2.3,-3.0,-2.4,-2.6,-2.3,-2.8,-2.4,
  -2.3,-2.9,-2.4,-2.6,-2.3,-2.8,-2.4,-2.6,-2.3,-2.9,-2.4,-2.7,-2.3,-2.6,-4.4,-3.6,-4.8,-3.8,-5.9,-3.9,
  -4.6,-3.4,-4.2,-3.7,-4.5,-3.3,-4.0,-2.6,-3.0,-2.5,-2.8,-2.5,-3.3,-2.6,-3.1,-2.5,-2.9,-2.6,-3.5,-2.5,
  -2.6,-3.1,-2.5,-2.9,-2.6,-3.5,-2.5,-3.0,-2.6,-3.4,-2.5,-2.8,-2.6,-3.5,-2.5,-3.2,-2.6,-3.1,-2.5,-3.6,
  -2.6,-3.0,-2.5,-3.4,-2.6,-2.9,-2.5,-3.2,-2.6,-3.5,-2.5,-3.0,-2.6,-3.3,-2.5,-2.9,-2.6,-3.6,-2.5,-3.1,
  -2.4];
const deg6y = [
  -2.6,-3.0,-2.7,-3.3,-2.6,-2.9,-2.7,-3.5,-2.6,-3.1,-2.7,-3.2,-2.6,-3.0,-2.7,-3.4,-5.4,-2.8,-3.1,-2.6,
  -3.4,-2.7,-3.0,-2.6,-3.2,-2.7,-2.9,-2.6,-3.1,-2.7,-3.4,-2.6,-2.9,-2.7,-3.3,-2.6,-3.0,-2.7,-3.2,-2.6,
  -3.1,-2.7,-3.4,-2.6,-2.9,-2.7,-3.6,-2.6,-3.0,-2.7,-1.9,-3.2,-2.6,-3.0,-2.7,-3.6,-2.6,-3.1,-2.7,-3.3,
  -2.6,-2.9,-2.7,-3.2,-2.6,-3.0,-2.7,-3.5,-2.6,-3.1,-2.7,-3.3,-2.6,-2.9,-2.7,-3.4,-2.6,-3.0,-2.7,-3.2,
  -3.0,-2.7,-3.5,-2.6,-3.1,-2.7,-3.4,-2.6,-4.6,-2.7,-3.1,-2.6,-3.4,-2.7,-3.0,-2.6,-3.3,-2.7,-3.0,-2.6,
  -3.3,-2.5,-3.0,-2.6,-3.2,-2.5,-2.9,-2.3,-2.7,-2.1,-2.5,-2.3,-2.9,-2.3,-2.6,-2.2,-2.8,-2.3,-2.5,-2.2,
  -2.6,-2.3,-2.9,-1.9,-2.5,-2.3,-2.8,-2.2,-2.6,-2.3,-3.0,-2.2,-2.5,-2.3,-2.8,-2.2,-2.6,-2.3,-2.9,-2.2,
  -2.5,-2.3,-3.0,-2.2,-2.6,-2.3,-2.8,-2.2,-2.5,-2.3,-2.9,-2.2,-2.6,-2.3,-3.0,-2.2,-2.7,-2.3,-2.5,-2.2,
  -2.3,-1.8,-2.6,-2.2,-2.8,-2.3,-2.5,-2.2,-2.9,-2.3,-2.6,-2.2,-2.7,-2.3,-2.4,-2.9,-2.3,-3.3,-2.4,-2.7,
  -2.5,-3.0,-2.4,-2.8,-2.3,-3.2,-2.5,-2.3,-2.8,-2.4,-3.2,-2.3,-2.7,-2.4,-2.9,-2.3,-3.1,-2.4,-2.7,-2.3,
  -2.4,-2.9,-2.3,-3.5,-2.4,-2.7,-2.3,-3.0,-2.4,-2.8,-2.3,-3.1,-2.4,-2.7,-2.3,-3.0,-2.4,-2.8,-2.3,-3.1,
  -2.4,-2.7,-2.3,-3.0,-2.4,-2.9,-2.3,-3.1,-2.4,-2.7,-2.3,-3.0,-2.4,-5.3,-2.5,-2.8,-2.3,-1.8,-2.9,-2.5,
  -3.2];
const deg6z = [
  -2.1,-3.3,-2.6,-3.6,-2.5,-3.0,-2.6,-2.0,-3.1,-2.6,-3.4,-2.5,-3.0,-1.9,-2.6,-3.0,-2.6,-3.5,-2.5,-3.1,
  -2.5,-3.1,-2.6,-3.3,-2.5,-2.9,-1.9,-3.0,-2.6,-3.4,-2.5,-3.0,-2.6,-3.2,-2.5,-3.7,-2.6,-3.0,-2.5,-3.3,
  -2.6,-3.4,-2.5,-3.0,-2.6,-3.2,-2.5,-3.7,-2.6,-3.0,-2.5,-3.3,-2.6,-2.9,-2.5,-3.5,-2.6,-3.1,-2.5,-3.6,
  -2.5,-3.1,-2.6,-3.5,-2.5,-2.9,-2.6,-3.3,-2.5,-3.0,-2.6,-3.6,-2.5,-3.1,-2.6,-2.9,-2.5,-3.4,-2.6,-3.0,
  -2.6,-3.2,-2.5,-3.1,-2.6,-3.4,-2.5,-6.3,-2.7,-3.0,-2.6,-3.3,-2.5,-3.0,-2.6,-3.4,-2.5,-3.1,-2.6,-5.9,
  -2.6,-3.3,-2.5,-3.0,-2.6,-3.4,-2.5,-2.8,-2.4,-3.1,-2.5,-2.7,-2.4,-3.2,-2.5,-2.8,-2.4,-3.0,-2.5,-2.7,
  -2.4,-3.0,-2.5,-2.8,-2.4,-3.1,-2.5,-2.7,-2.4,-2.9,-2.5,-3.2,-2.4,-2.8,-2.5,-3.1,-2.4,-2.7,-2.5,-2.9,
  -2.0,-2.6,-3.2,-2.5,-2.8,-2.4,-3.0,-2.5,-2.7,-2.4,-3.1,-2.5,-2.8,-2.4,-3.0,-2.5,-2.7,-2.4,-3.2,-2.5,
  -2.8,-2.4,-2.0,-2.7,-2.4,-3.0,-2.5,-2.8,-2.4,-3.1,-2.5,-2.7,-2.4,-3.0,-2.8,-3.3,-2.6,-3.0,-2.5,-3.2,
  -2.7,-3.0,-2.6,-3.3,-2.7,-2.9,-2.6,-2.9,-2.5,-3.1,-2.6,-2.8,-2.5,-3.2,-2.6,-3.0,-2.5,-5.5,-2.7,-3.0,
  -3.0,-2.5,-3.3,-2.6,-2.9,-2.5,-3.2,-2.6,-3.0,-2.5,-3.4,-2.6,-2.9,-2.5,-3.1,-2.6,-3.2,-2.5,-5.1,-2.7,
  -3.0,-2.5,-3.4,-2.6,-2.9,-2.5,-3.2,-2.6,-3.0,-2.5,-3.3,-2.6,-2.9,-2.5,-3.2,-2.6,-2.2,-3.0,-2.6,-2.8,
  -2.8];

const panels = [
  { x: deg1x, y: deg1y, z: deg1z },
  { x: deg2x, y: deg2y, z: deg2z },
  { x: deg3x, y: deg3y, z: deg3z },
  { x: deg4x, y: deg4y, z: deg4z },
  { x: deg5x, y: deg5y, z: deg5z },
  { x: deg6x, y: deg6y, z: deg6z }
];

const width = 772, height = 961;
const left = 101, right = 766, top0 = 28, panelH = 111, step = 150.4;
const ink = '#262626';

const svg = d3.select('#chart').append('svg')
              .attr('width', width)
              .attr('height', height);

const x = d3.scaleLinear().domain([-90, 1890]).range([left, right]);

panels.forEach((p, k) => {
    const top = top0 + k * step;
    const y = d3.scaleLinear().domain([-7.92, -1.28]).range([top + panelH, top]);
    const g = svg.append('g');

    // light grid
    g.append('g').selectAll('line').data(xTicks).enter().append('line')
     .attr('x1', d => x(d)).attr('x2', d => x(d))
     .attr('y1', top).attr('y2', top + panelH)
     .attr('stroke', '#ececec').attr('stroke-width', 0.8);
    g.append('g').selectAll('line').data(yTicks).enter().append('line')
     .attr('x1', left).attr('x2', right)
     .attr('y1', d => y(d)).attr('y2', d => y(d))
     .attr('stroke', '#ececec').attr('stroke-width', 0.8);

    const line = d3.line()
                   .defined((d, i) => i < accel.length)
                   .x((d, i) => x(accel[i]))
                   .y(d => y(d));

    seriesNames.forEach((s, j) => {
        g.append('path')
         .datum(p[s])
         .attr('d', line)
         .attr('fill', 'none')
         .attr('stroke', seriesColors[j])
         .attr('stroke-width', 1.25)
         .attr('stroke-opacity', 0.88)
         .attr('stroke-linejoin', 'round');
    });

    // axes
    const xAxis = g.append('g')
                   .attr('transform', `translate(0,${top + panelH})`)
                   .call(d3.axisBottom(x).tickValues(xTicks).tickFormat(d3.format('d'))
                           .tickSize(5).tickPadding(8).tickSizeOuter(0))
                   .attr('font-size', 16);
    if (k < panels.length - 1) xAxis.selectAll('text').remove();

    const yAxis = g.append('g')
                   .attr('transform', `translate(${left},0)`)
                   .call(d3.axisLeft(y).tickValues(yTicks).tickSize(5).tickPadding(8).tickSizeOuter(0))
                   .attr('font-size', 16);
    yAxis.selectAll('.tick text').each(function(d) {
        const t = d3.select(this).text(null);
        t.append('tspan').text('10');
        t.append('tspan').attr('dy', '-0.45em').attr('font-size', 11.5).text('\u2212' + Math.abs(d));
    });

    [xAxis, yAxis].forEach(a => {
        a.select('.domain').attr('stroke', ink).attr('stroke-width', 1.25);
        a.selectAll('.tick line').attr('stroke', ink).attr('stroke-width', 1);
    });

    g.append('text')
     .attr('x', (left + right) / 2)
     .attr('y', top - 10)
     .attr('text-anchor', 'middle')
     .attr('font-size', 17)
     .text(titles[k]);

    // legend in the first panel
    if (k === 0) {
        const lg = g.append('g');
        lg.append('rect')
          .attr('x', 106).attr('y', top + 84).attr('width', 174).attr('height', 21)
          .attr('rx', 3).attr('fill', '#fff').attr('fill-opacity', 0.8)
          .attr('stroke', '#d4d4d4').attr('stroke-width', 0.8);
        const lx = [111, 173, 235];
        seriesNames.forEach((s, j) => {
            lg.append('line')
              .attr('x1', lx[j]).attr('x2', lx[j] + 25)
              .attr('y1', top + 94.5).attr('y2', top + 94.5)
              .attr('stroke', seriesColors[j]).attr('stroke-width', 1.2);
            lg.append('text')
              .attr('x', lx[j] + 37).attr('y', top + 98.5)
              .attr('text-anchor', 'middle')
              .attr('font-size', 13).attr('font-weight', 'bold')
              .text(s);
        });
    }
});

// x label, centred on the figure
const xl = svg.append('text')
              .attr('x', width / 2)
              .attr('y', 948)
              .attr('text-anchor', 'middle')
              .attr('font-size', 21.5);
xl.append('tspan').text('Measured acceleration [m\u2009s');
xl.append('tspan').attr('dy', -8).attr('font-size', 14).text('\u22122');
xl.append('tspan').attr('dy', 8).text(']');

// y label: log( (Psi_c - Psi_ref) / 20g )
const yl = svg.append('g').attr('transform', 'rotate(-90)');
yl.append('text').attr('x', -562).attr('y', 31).attr('font-size', 20).text('log');
yl.append('text').attr('x', -535).attr('y', 38).attr('font-size', 36).text('(');
const num = yl.append('text').attr('x', -480).attr('y', 18)
              .attr('text-anchor', 'middle').attr('font-size', 16);
num.append('tspan').attr('font-weight', 'bold').text('\u03A8');
num.append('tspan').attr('font-style', 'italic').attr('font-size', 11.5).attr('dy', 3).text('c');
num.append('tspan').attr('dy', -3).text(' \u2212 ');
num.append('tspan').attr('font-weight', 'bold').text('\u03A8');
num.append('tspan').attr('font-size', 11.5).attr('dy', 3).text('ref');
yl.append('line')
  .attr('x1', -520).attr('x2', -440).attr('y1', 22.5).attr('y2', 22.5)
  .attr('stroke', '#222').attr('stroke-width', 0.9);
const den = yl.append('text').attr('x', -480).attr('y', 35)
              .attr('text-anchor', 'middle').attr('font-size', 16);
den.append('tspan').text('20');
den.append('tspan').attr('font-style', 'italic').text('g');
yl.append('text').attr('x', -437).attr('y', 38).attr('font-size', 36).text(')');
</script>
</body>
</html>
